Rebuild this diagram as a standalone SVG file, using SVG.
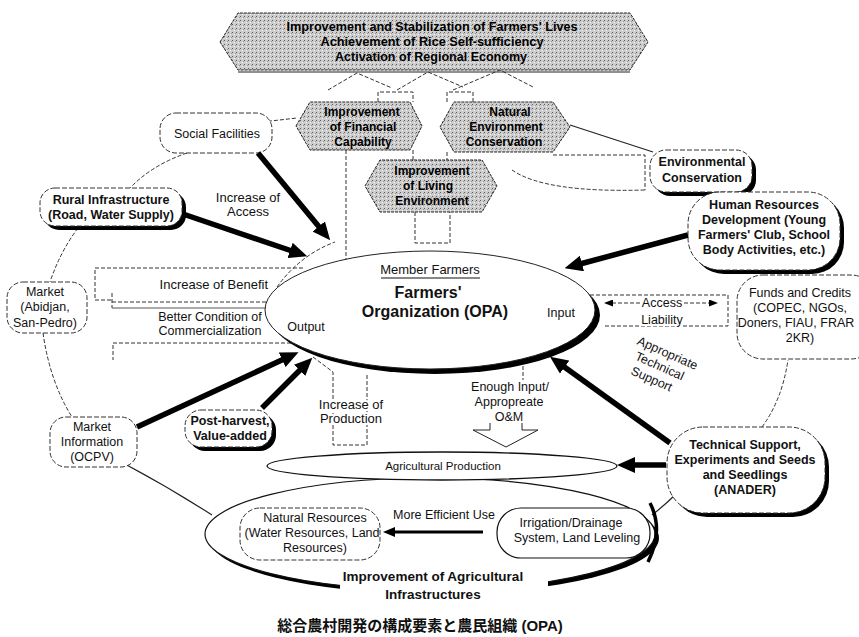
<svg xmlns="http://www.w3.org/2000/svg" width="859" height="637" viewBox="0 0 859 637">
  <defs>
    <pattern id="stipple" width="4" height="4" patternUnits="userSpaceOnUse">
      <rect width="4" height="4" fill="#cdcdcd"/>
      <rect x="0" y="0" width="1" height="1" fill="#5e5e5e"/>
      <rect x="2" y="2" width="1" height="1" fill="#f5f5f5"/>
      <rect x="3" y="1" width="1" height="1" fill="#9a9a9a"/>
    </pattern>
    <marker id="big" viewBox="0 0 18 16" markerWidth="18" markerHeight="16" refX="2" refY="8" orient="auto" markerUnits="userSpaceOnUse">
      <path d="M0,0 L18,8 L0,16 Z" fill="#000"/>
    </marker>
    <marker id="mid" viewBox="0 0 12 10" markerWidth="12" markerHeight="10" refX="1" refY="5" orient="auto" markerUnits="userSpaceOnUse">
      <path d="M0,0 L12,5 L0,10 Z" fill="#000"/>
    </marker>
    <marker id="tiny" viewBox="0 0 9 7" markerWidth="9" markerHeight="7" refX="1" refY="3.5" orient="auto-start-reverse" markerUnits="userSpaceOnUse">
      <path d="M0,0 L9,3.5 L0,7 Z" fill="#000"/>
    </marker>
    <style>
      .t { font-family: "Liberation Sans", Arial, sans-serif; font-size: 12.5px; fill: #111; text-anchor: middle; }
      .b { font-weight: bold; }
      .hx { font-family: "Liberation Sans", Arial, sans-serif; font-weight: bold; font-size: 12px; fill: #000; text-anchor: middle; }
      .halo { stroke: #fff; stroke-width: 4px; paint-order: stroke; stroke-linejoin: round; }
      .dash { fill: none; stroke: #333; stroke-width: 1; stroke-dasharray: 4 2; }
      .thin { fill: none; stroke: #222; stroke-width: 1.2; }
      .hex { fill: url(#stipple); stroke: #222; stroke-width: 1; stroke-dasharray: 3 1; }
      .nd { fill: #fff; stroke: #333; stroke-width: 1; stroke-dasharray: 5 2; }
      .ns { fill: #fff; stroke: #111; stroke-width: 1.2; }
      .sh { fill: #000; }
      .arrow { fill: none; stroke: #000; stroke-width: 5.5; marker-end: url(#big); }
    </style>
  </defs>

  <rect width="859" height="637" fill="#fff"/>

  <!-- thin links: outer ring segments, brackets and hexagon ties -->
  <g id="links">
    <path class="dash" d="M328,90 L357,73 L392,88 M397,90 L428,72 L463,87 M453,90 L500,70 L533,87"/>
    <path class="dash" d="M378,102 V92 H413 V102 M447,102 V92 H473 V102"/>
    <path class="dash" d="M413,150 V160 M447,152 V160"/>
    <path class="dash" d="M346,150 V259"/>
    <path class="dash" d="M415,212 V243 H450 V212"/>
    <path class="dash" d="M553,155 H645 V190"/>
    <path class="dash" d="M512,170 Q545,193 645,190"/>
    <path class="dash" d="M262,122 L297,118"/>
    <path class="thin" d="M570,125 Q610,138 653,152"/>
    <path class="dash" d="M187,153 Q152,165 130,188"/>
    <path class="dash" d="M78,228 Q60,252 50,282"/>
    <path class="dash" d="M43,333 Q50,382 72,417"/>
    <path class="thin" d="M125,464 Q170,488 212,515"/>
    <path class="thin" d="M652,515 Q665,505 677,493"/>
    <path class="dash" d="M762,427 Q782,400 788,360"/>
    <path class="dash" d="M277,287 Q300,255 335,242"/>
    <!-- benefit / commercialization brackets -->
    <path class="dash" d="M303,268 H95 V300 H112"/>
    <path class="dash" d="M112,293 V308 M112,302 H268"/>
    <path fill="none" stroke="#555" stroke-width="1" d="M112,308 H268"/>
    <path class="dash" d="M297,343 H113 V360"/>
    <!-- production bracket -->
    <path class="dash" d="M313,357 L333,372 V445 H367 V375"/>
    <!-- input / O&M -->
    <path class="dash" d="M523,366 V380"/>
    <path fill="none" stroke="#222" stroke-width="1" d="M490,423 V430 H473 L506,447 L538,430 H522 V423"/>
    <!-- access / liability -->
    <path class="dash" d="M590,295 H728 V326 H605"/>
    <path class="dash" d="M612,303 H710" marker-start="url(#tiny)" marker-end="url(#tiny)"/>
  </g>

  <!-- goals -->
  <g id="goal-banner">
    <polygon points="220,42 238,13 630,13 648,42 630,70 238,70" class="hex"/>
    <path d="M238,72 H630" stroke="#222" stroke-width="1"/>
    <text class="hx" x="432" y="31" textLength="291" lengthAdjust="spacingAndGlyphs">Improvement and Stabilization of Farmers' Lives</text>
    <text class="hx" x="432" y="46" textLength="223" lengthAdjust="spacingAndGlyphs">Achievement of Rice Self-sufficiency</text>
    <text class="hx" x="431" y="61" textLength="192" lengthAdjust="spacingAndGlyphs">Activation of Regional Economy</text>
  </g>
  <g id="hex-financial">
    <polygon points="296,126 310,102 410,102 422,126 410,150 310,150" class="hex"/>
    <text class="hx" x="362" y="116">Improvement</text>
    <text class="hx" x="363" y="131">of Financial</text>
    <text class="hx" x="363" y="146">Capability</text>
  </g>
  <g id="hex-natural">
    <polygon points="440,127 454,102 553,102 570,127 553,152 454,152" class="hex"/>
    <text class="hx" x="510" y="116">Natural</text>
    <text class="hx" x="506" y="131">Environment</text>
    <text class="hx" x="504" y="146">Conservation</text>
  </g>
  <g id="hex-living">
    <polygon points="365,186 380,160 482,160 497,186 482,212 380,212" class="hex"/>
    <text class="hx" x="432" y="175">Improvement</text>
    <text class="hx" x="428" y="190">of Living</text>
    <text class="hx" x="432" y="205">Environment</text>
  </g>

  <!-- outer elements -->
  <g id="social-facilities">
    <rect x="160" y="113" width="112" height="40" rx="16" class="nd"/>
    <text class="t" x="217" y="138">Social Facilities</text>
  </g>
  <g id="rural-infrastructure">
    <rect x="44" y="192" width="142" height="38" rx="15" class="sh"/>
    <rect x="40" y="188" width="142" height="38" rx="15" class="nd"/>
    <text class="t b" x="111" y="204">Rural Infrastructure</text>
    <text class="t b" x="111" y="219">(Road, Water Supply)</text>
  </g>
  <g id="environmental-conservation">
    <rect x="654" y="154" width="102" height="42" rx="16" class="sh"/>
    <rect x="650" y="150" width="102" height="42" rx="16" class="nd"/>
    <text class="t b" x="702" y="166">Environmental</text>
    <text class="t b" x="702" y="182">Conservation</text>
  </g>
  <g id="human-resources">
    <rect x="692" y="196" width="152" height="78" rx="32" class="sh"/>
    <rect x="688" y="192" width="152" height="78" rx="32" class="nd"/>
    <text class="t b" x="764" y="209">Human Resources</text>
    <text class="t b" x="764" y="224">Development (Young</text>
    <text class="t b" x="764" y="239">Farmers' Club, School</text>
    <text class="t b" x="764" y="254">Body Activities, etc.)</text>
  </g>
  <g id="funds-credits">
    <rect x="737" y="275" width="140" height="84" rx="26" class="nd"/>
    <text class="t" x="800" y="297">Funds and Credits</text>
    <text class="t" x="800" y="312">(COPEC, NGOs,</text>
    <text class="t" x="796" y="327">Doners, FIAU, FRAR</text>
    <text class="t" x="800" y="342">2KR)</text>
  </g>
  <g id="market">
    <rect x="7" y="282" width="80" height="51" rx="16" class="nd"/>
    <text class="t" x="45" y="296">Market</text>
    <text class="t" x="45" y="311">(Abidjan,</text>
    <text class="t" x="45" y="327">San-Pedro)</text>
  </g>
  <g id="market-information">
    <rect x="50" y="417" width="87" height="50" rx="16" class="nd"/>
    <text class="t" x="92" y="431">Market</text>
    <text class="t" x="92" y="446">Information</text>
    <text class="t" x="92" y="461">(OCPV)</text>
  </g>
  <g id="post-harvest">
    <rect x="189" y="414" width="87" height="37" rx="16" class="sh"/>
    <rect x="185" y="410" width="87" height="37" rx="16" class="nd"/>
    <text class="t b" x="230" y="425">Post-harvest,</text>
    <text class="t b" x="230" y="440">Value-added</text>
  </g>
  <g id="technical-support">
    <rect x="671" y="431" width="158" height="86" rx="36" class="sh"/>
    <rect x="667" y="427" width="158" height="86" rx="36" class="nd"/>
    <text class="t b" x="745" y="449">Technical Support,</text>
    <text class="t b" x="745" y="464">Experiments and Seeds</text>
    <text class="t b" x="745" y="479">and Seedlings</text>
    <text class="t b" x="745" y="494">(ANADER)</text>
  </g>

  <!-- agricultural infrastructure block -->
  <g id="agri-infrastructure">
    <ellipse cx="434" cy="538" rx="225" ry="56" class="sh"/>
    <ellipse cx="430" cy="534" rx="225" ry="56" fill="#fff" stroke="#111" stroke-width="1.2"/>
    <rect x="340" y="567" width="208" height="38" fill="#fff"/>
    <text class="t b" x="433" y="581" style="font-size:13.5px">Improvement of Agricultural</text>
    <text class="t b" x="433" y="599" style="font-size:13.5px">Infrastructures</text>
  </g>
  <g id="natural-resources">
    <rect x="240" y="508" width="140" height="52" rx="20" class="nd"/>
    <text class="t" x="315" y="522">Natural Resources</text>
    <text class="t" x="312" y="537">(Water Resources, Land</text>
    <text class="t" x="315" y="552">Resources)</text>
  </g>
  <g id="irrigation">
    <rect x="497" y="508" width="153" height="50" rx="24" class="ns"/>
    <text class="t" x="571" y="527">Irrigation/Drainage</text>
    <text class="t" x="577" y="542">System, Land Leveling</text>
  </g>
  <!-- heavy rim of the infrastructure outline crossing the irrigation box -->
  <path d="M650,503 Q664,530 648,562" fill="none" stroke="#000" stroke-width="3.5"/>
  <g id="agricultural-production">
    <ellipse cx="442" cy="466" rx="175" ry="14" fill="#fff" stroke="#111" stroke-width="1.3"/>
    <text class="t" x="443" y="470" style="font-size:11.5px">Agricultural Production</text>
  </g>

  <!-- central organisation -->
  <g id="farmers-organization">
    <ellipse cx="435" cy="315" rx="165" ry="59" class="sh"/>
    <ellipse cx="430" cy="310" rx="165" ry="59" fill="#fff" stroke="#222" stroke-width="1"/>
    <text class="t" x="430" y="274" style="font-size:13px">Member Farmers</text>
    <path d="M381,278 H480" stroke="#111" stroke-width="1.2"/>
    <text class="t b" x="428" y="298" style="font-size:16px">Farmers'</text>
    <text class="t b" x="435" y="317" style="font-size:16px">Organization (OPA)</text>
    <text class="t" x="561" y="317">Input</text>
    <text class="t" x="306" y="331">Output</text>
  </g>

  <!-- free labels -->
  <g id="labels">
    <text class="t" x="248" y="202" style="font-size:13px">Increase of</text>
    <text class="t" x="248" y="216" style="font-size:13px">Access</text>
    <text class="t halo" x="268" y="289" style="text-anchor:end;font-size:13px">Increase of Benefit</text>
    <text class="t" x="210" y="321">Better Condition of</text>
    <text class="t" x="210" y="335">Commercialization</text>
    <text class="t halo" x="351" y="409" style="font-size:13px">Increase of</text>
    <text class="t halo" x="351" y="423" style="font-size:13px">Production</text>
    <text class="t" x="510" y="391">Enough Input/</text>
    <text class="t" x="509" y="406">Appropreate</text>
    <text class="t" x="509" y="421">O&amp;M</text>
    <text class="t halo" x="662" y="307">Access</text>
    <text class="t halo" x="662" y="324">Liability</text>
    <g transform="translate(661,368) rotate(24)">
      <text class="t" x="0" y="-12">Appropriate</text>
      <text class="t" x="-2" y="3">Technical</text>
      <text class="t" x="-4" y="18">Support</text>
    </g>
    <text class="t" x="444" y="519">More Efficient Use</text>
  </g>

  <!-- heavy arrows -->
  <g id="arrows">
    <path class="arrow" d="M258,153 L320,228"/>
    <path class="arrow" d="M183,214 L292,251"/>
    <path class="arrow" d="M688,235 L580,264"/>
    <path class="arrow" d="M670,443 L563,366"/>
    <path class="arrow" d="M666,465 L633,465"/>
    <path class="arrow" d="M137,427 L284,359"/>
    <path class="arrow" d="M262,408 L301,369"/>
    <path fill="none" stroke="#000" stroke-width="3" marker-end="url(#mid)" d="M483,532 H394"/>
  </g>

  <text x="420" y="631" style="font-family:'Liberation Sans','Noto Sans CJK JP',sans-serif;font-size:15px;font-weight:bold;text-anchor:middle;fill:#111">総合農村開発の構成要素と農民組織 (OPA)</text>
</svg>
